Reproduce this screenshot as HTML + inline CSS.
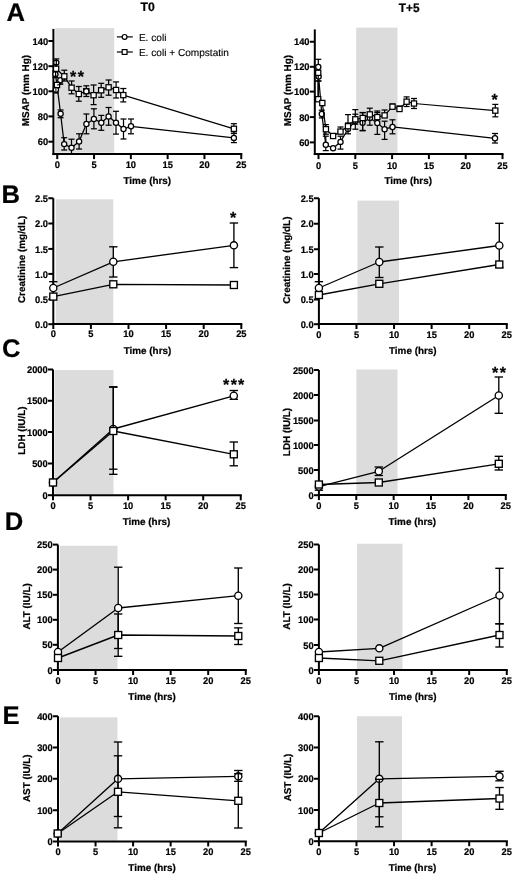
<!DOCTYPE html>
<html><head><meta charset="utf-8"><style>
html,body{margin:0;padding:0;background:#fff;}
svg{display:block;font-family:"Liberation Sans", sans-serif;will-change:transform;text-rendering:geometricPrecision;}
text{stroke:#000;stroke-width:0.22px;}
text.r{stroke-width:0.12px;}
</style></head><body>
<svg width="520" height="881" viewBox="0 0 520 881">
<rect width="520" height="881" fill="#fff"/>
<rect x="55.3" y="28.1" width="58.900000000000006" height="124.6" fill="#dcdcdc"/>
<line x1="53.4" y1="28.9" x2="53.4" y2="155.1" stroke="#000" stroke-width="2.0"/>
<line x1="52.4" y1="154.1" x2="242.3" y2="154.1" stroke="#000" stroke-width="2.0"/>
<line x1="48.4" y1="41.0" x2="53.4" y2="41.0" stroke="#000" stroke-width="2.0"/>
<text transform="translate(48.10,44.60) scale(0.97,1.0)" font-size="9.6" font-weight="bold" text-anchor="end" >140</text>
<line x1="48.4" y1="66.2" x2="53.4" y2="66.2" stroke="#000" stroke-width="2.0"/>
<text transform="translate(48.10,69.80) scale(0.97,1.0)" font-size="9.6" font-weight="bold" text-anchor="end" >120</text>
<line x1="48.4" y1="91.3" x2="53.4" y2="91.3" stroke="#000" stroke-width="2.0"/>
<text transform="translate(48.10,94.90) scale(0.97,1.0)" font-size="9.6" font-weight="bold" text-anchor="end" >100</text>
<line x1="48.4" y1="116.4" x2="53.4" y2="116.4" stroke="#000" stroke-width="2.0"/>
<text transform="translate(48.10,120.00) scale(0.97,1.0)" font-size="9.6" font-weight="bold" text-anchor="end" >80</text>
<line x1="48.4" y1="141.7" x2="53.4" y2="141.7" stroke="#000" stroke-width="2.0"/>
<text transform="translate(48.10,145.30) scale(0.97,1.0)" font-size="9.6" font-weight="bold" text-anchor="end" >60</text>
<line x1="57.25" y1="154.1" x2="57.25" y2="159.1" stroke="#000" stroke-width="2.0"/>
<text transform="translate(57.25,168.10) scale(0.97,1.0)" font-size="9.6" font-weight="bold" text-anchor="middle" >0</text>
<line x1="94.05000000000001" y1="154.1" x2="94.05000000000001" y2="159.1" stroke="#000" stroke-width="2.0"/>
<text transform="translate(94.05,168.10) scale(0.97,1.0)" font-size="9.6" font-weight="bold" text-anchor="middle" >5</text>
<line x1="130.85000000000002" y1="154.1" x2="130.85000000000002" y2="159.1" stroke="#000" stroke-width="2.0"/>
<text transform="translate(130.85,168.10) scale(0.97,1.0)" font-size="9.6" font-weight="bold" text-anchor="middle" >10</text>
<line x1="167.65" y1="154.1" x2="167.65" y2="159.1" stroke="#000" stroke-width="2.0"/>
<text transform="translate(167.65,168.10) scale(0.97,1.0)" font-size="9.6" font-weight="bold" text-anchor="middle" >15</text>
<line x1="204.45000000000002" y1="154.1" x2="204.45000000000002" y2="159.1" stroke="#000" stroke-width="2.0"/>
<text transform="translate(204.45,168.10) scale(0.97,1.0)" font-size="9.6" font-weight="bold" text-anchor="middle" >20</text>
<line x1="241.25" y1="154.1" x2="241.25" y2="159.1" stroke="#000" stroke-width="2.0"/>
<text transform="translate(241.25,168.10) scale(0.97,1.0)" font-size="9.6" font-weight="bold" text-anchor="middle" >25</text>
<text transform="translate(147.30,184.41) scale(1.0,1.0)" font-size="9.9" font-weight="bold" text-anchor="middle" >Time (hrs)</text>
<text transform="translate(29.26,90.60) rotate(-90) scale(1.0,1.0)" font-size="9.9" font-weight="bold" text-anchor="middle" >MSAP (mm Hg)</text>
<rect x="356.2" y="27.6" width="41.30000000000001" height="125.20000000000002" fill="#dcdcdc"/>
<line x1="314.8" y1="29.4" x2="314.8" y2="155.1" stroke="#000" stroke-width="2.0"/>
<line x1="313.8" y1="154.1" x2="503.5" y2="154.1" stroke="#000" stroke-width="2.0"/>
<line x1="309.8" y1="41.75" x2="314.8" y2="41.75" stroke="#000" stroke-width="2.0"/>
<text transform="translate(309.50,45.35) scale(0.97,1.0)" font-size="9.6" font-weight="bold" text-anchor="end" >140</text>
<line x1="309.8" y1="66.8" x2="314.8" y2="66.8" stroke="#000" stroke-width="2.0"/>
<text transform="translate(309.50,70.40) scale(0.97,1.0)" font-size="9.6" font-weight="bold" text-anchor="end" >120</text>
<line x1="309.8" y1="91.6" x2="314.8" y2="91.6" stroke="#000" stroke-width="2.0"/>
<text transform="translate(309.50,95.20) scale(0.97,1.0)" font-size="9.6" font-weight="bold" text-anchor="end" >100</text>
<line x1="309.8" y1="117.1" x2="314.8" y2="117.1" stroke="#000" stroke-width="2.0"/>
<text transform="translate(309.50,120.70) scale(0.97,1.0)" font-size="9.6" font-weight="bold" text-anchor="end" >80</text>
<line x1="309.8" y1="142.4" x2="314.8" y2="142.4" stroke="#000" stroke-width="2.0"/>
<text transform="translate(309.50,146.00) scale(0.97,1.0)" font-size="9.6" font-weight="bold" text-anchor="end" >60</text>
<line x1="318.5" y1="154.1" x2="318.5" y2="159.1" stroke="#000" stroke-width="2.0"/>
<text transform="translate(318.50,168.80) scale(0.97,1.0)" font-size="9.6" font-weight="bold" text-anchor="middle" >0</text>
<line x1="355.3" y1="154.1" x2="355.3" y2="159.1" stroke="#000" stroke-width="2.0"/>
<text transform="translate(355.30,168.80) scale(0.97,1.0)" font-size="9.6" font-weight="bold" text-anchor="middle" >5</text>
<line x1="392.1" y1="154.1" x2="392.1" y2="159.1" stroke="#000" stroke-width="2.0"/>
<text transform="translate(392.10,168.80) scale(0.97,1.0)" font-size="9.6" font-weight="bold" text-anchor="middle" >10</text>
<line x1="428.9" y1="154.1" x2="428.9" y2="159.1" stroke="#000" stroke-width="2.0"/>
<text transform="translate(428.90,168.80) scale(0.97,1.0)" font-size="9.6" font-weight="bold" text-anchor="middle" >15</text>
<line x1="465.70000000000005" y1="154.1" x2="465.70000000000005" y2="159.1" stroke="#000" stroke-width="2.0"/>
<text transform="translate(465.70,168.80) scale(0.97,1.0)" font-size="9.6" font-weight="bold" text-anchor="middle" >20</text>
<line x1="502.5" y1="154.1" x2="502.5" y2="159.1" stroke="#000" stroke-width="2.0"/>
<text transform="translate(502.50,168.80) scale(0.97,1.0)" font-size="9.6" font-weight="bold" text-anchor="middle" >25</text>
<text transform="translate(408.20,184.41) scale(1.0,1.0)" font-size="9.9" font-weight="bold" text-anchor="middle" >Time (hrs)</text>
<text transform="translate(290.86,90.60) rotate(-90) scale(1.0,1.0)" font-size="9.9" font-weight="bold" text-anchor="middle" >MSAP (mm Hg)</text>
<rect x="55.8" y="199.3" width="57.5" height="123.69999999999999" fill="#dcdcdc"/>
<line x1="53.3" y1="198.2" x2="53.3" y2="325.0" stroke="#000" stroke-width="2.0"/>
<line x1="52.3" y1="324" x2="242.3" y2="324" stroke="#000" stroke-width="2.0"/>
<line x1="48.3" y1="198.25" x2="53.3" y2="198.25" stroke="#000" stroke-width="2.0"/>
<text transform="translate(48.00,201.85) scale(0.97,1.0)" font-size="9.6" font-weight="bold" text-anchor="end" >2.5</text>
<line x1="48.3" y1="223.5" x2="53.3" y2="223.5" stroke="#000" stroke-width="2.0"/>
<text transform="translate(48.00,227.10) scale(0.97,1.0)" font-size="9.6" font-weight="bold" text-anchor="end" >2.0</text>
<line x1="48.3" y1="248.9" x2="53.3" y2="248.9" stroke="#000" stroke-width="2.0"/>
<text transform="translate(48.00,252.50) scale(0.97,1.0)" font-size="9.6" font-weight="bold" text-anchor="end" >1.5</text>
<line x1="48.3" y1="273.9" x2="53.3" y2="273.9" stroke="#000" stroke-width="2.0"/>
<text transform="translate(48.00,277.50) scale(0.97,1.0)" font-size="9.6" font-weight="bold" text-anchor="end" >1.0</text>
<line x1="48.3" y1="299.3" x2="53.3" y2="299.3" stroke="#000" stroke-width="2.0"/>
<text transform="translate(48.00,302.90) scale(0.97,1.0)" font-size="9.6" font-weight="bold" text-anchor="end" >0.5</text>
<line x1="48.3" y1="324.2" x2="53.3" y2="324.2" stroke="#000" stroke-width="2.0"/>
<text transform="translate(48.00,327.80) scale(0.97,1.0)" font-size="9.6" font-weight="bold" text-anchor="end" >0.0</text>
<line x1="53.3" y1="324" x2="53.3" y2="329.0" stroke="#000" stroke-width="2.0"/>
<text transform="translate(53.30,337.30) scale(0.97,1.0)" font-size="9.6" font-weight="bold" text-anchor="middle" >0</text>
<line x1="90.89999999999999" y1="324" x2="90.89999999999999" y2="329.0" stroke="#000" stroke-width="2.0"/>
<text transform="translate(90.90,337.30) scale(0.97,1.0)" font-size="9.6" font-weight="bold" text-anchor="middle" >5</text>
<line x1="128.5" y1="324" x2="128.5" y2="329.0" stroke="#000" stroke-width="2.0"/>
<text transform="translate(128.50,337.30) scale(0.97,1.0)" font-size="9.6" font-weight="bold" text-anchor="middle" >10</text>
<line x1="166.1" y1="324" x2="166.1" y2="329.0" stroke="#000" stroke-width="2.0"/>
<text transform="translate(166.10,337.30) scale(0.97,1.0)" font-size="9.6" font-weight="bold" text-anchor="middle" >15</text>
<line x1="203.7" y1="324" x2="203.7" y2="329.0" stroke="#000" stroke-width="2.0"/>
<text transform="translate(203.70,337.30) scale(0.97,1.0)" font-size="9.6" font-weight="bold" text-anchor="middle" >20</text>
<line x1="241.3" y1="324" x2="241.3" y2="329.0" stroke="#000" stroke-width="2.0"/>
<text transform="translate(241.30,337.30) scale(0.97,1.0)" font-size="9.6" font-weight="bold" text-anchor="middle" >25</text>
<text transform="translate(147.50,353.91) scale(1.0,1.0)" font-size="9.9" font-weight="bold" text-anchor="middle" >Time (hrs)</text>
<text transform="translate(24.96,259.40) rotate(-90) scale(1.0,1.0)" font-size="9.9" font-weight="bold" text-anchor="middle" >Creatinine (mg/dL)</text>
<rect x="357.5" y="200.6" width="41.5" height="122.4" fill="#dcdcdc"/>
<line x1="318.9" y1="198.2" x2="318.9" y2="325.0" stroke="#000" stroke-width="2.0"/>
<line x1="317.9" y1="324" x2="507.8" y2="324" stroke="#000" stroke-width="2.0"/>
<line x1="313.9" y1="198.25" x2="318.9" y2="198.25" stroke="#000" stroke-width="2.0"/>
<text transform="translate(313.60,201.85) scale(0.97,1.0)" font-size="9.6" font-weight="bold" text-anchor="end" >2.5</text>
<line x1="313.9" y1="223.75" x2="318.9" y2="223.75" stroke="#000" stroke-width="2.0"/>
<text transform="translate(313.60,227.35) scale(0.97,1.0)" font-size="9.6" font-weight="bold" text-anchor="end" >2.0</text>
<line x1="313.9" y1="249.25" x2="318.9" y2="249.25" stroke="#000" stroke-width="2.0"/>
<text transform="translate(313.60,252.85) scale(0.97,1.0)" font-size="9.6" font-weight="bold" text-anchor="end" >1.5</text>
<line x1="313.9" y1="274" x2="318.9" y2="274" stroke="#000" stroke-width="2.0"/>
<text transform="translate(313.60,277.60) scale(0.97,1.0)" font-size="9.6" font-weight="bold" text-anchor="end" >1.0</text>
<line x1="313.9" y1="299.5" x2="318.9" y2="299.5" stroke="#000" stroke-width="2.0"/>
<text transform="translate(313.60,303.10) scale(0.97,1.0)" font-size="9.6" font-weight="bold" text-anchor="end" >0.5</text>
<line x1="313.9" y1="324.2" x2="318.9" y2="324.2" stroke="#000" stroke-width="2.0"/>
<text transform="translate(313.60,327.80) scale(0.97,1.0)" font-size="9.6" font-weight="bold" text-anchor="end" >0.0</text>
<line x1="318.9" y1="324" x2="318.9" y2="329.0" stroke="#000" stroke-width="2.0"/>
<text transform="translate(318.90,337.80) scale(0.97,1.0)" font-size="9.6" font-weight="bold" text-anchor="middle" >0</text>
<line x1="356.47499999999997" y1="324" x2="356.47499999999997" y2="329.0" stroke="#000" stroke-width="2.0"/>
<text transform="translate(356.47,337.80) scale(0.97,1.0)" font-size="9.6" font-weight="bold" text-anchor="middle" >5</text>
<line x1="394.04999999999995" y1="324" x2="394.04999999999995" y2="329.0" stroke="#000" stroke-width="2.0"/>
<text transform="translate(394.05,337.80) scale(0.97,1.0)" font-size="9.6" font-weight="bold" text-anchor="middle" >10</text>
<line x1="431.625" y1="324" x2="431.625" y2="329.0" stroke="#000" stroke-width="2.0"/>
<text transform="translate(431.62,337.80) scale(0.97,1.0)" font-size="9.6" font-weight="bold" text-anchor="middle" >15</text>
<line x1="469.19999999999993" y1="324" x2="469.19999999999993" y2="329.0" stroke="#000" stroke-width="2.0"/>
<text transform="translate(469.20,337.80) scale(0.97,1.0)" font-size="9.6" font-weight="bold" text-anchor="middle" >20</text>
<line x1="506.775" y1="324" x2="506.775" y2="329.0" stroke="#000" stroke-width="2.0"/>
<text transform="translate(506.77,337.80) scale(0.97,1.0)" font-size="9.6" font-weight="bold" text-anchor="middle" >25</text>
<text transform="translate(412.80,353.91) scale(1.0,1.0)" font-size="9.9" font-weight="bold" text-anchor="middle" >Time (hrs)</text>
<text transform="translate(290.26,260.20) rotate(-90) scale(1.0,1.0)" font-size="9.9" font-weight="bold" text-anchor="middle" >Creatinine (mg/dL)</text>
<rect x="54.4" y="370.1" width="59.1" height="124.19999999999999" fill="#dcdcdc"/>
<line x1="53.0" y1="369.5" x2="53.0" y2="496.3" stroke="#000" stroke-width="2.0"/>
<line x1="52.0" y1="495.3" x2="241.8" y2="495.3" stroke="#000" stroke-width="2.0"/>
<line x1="48.0" y1="369.5" x2="53.0" y2="369.5" stroke="#000" stroke-width="2.0"/>
<text transform="translate(47.70,373.10) scale(0.97,1.0)" font-size="9.6" font-weight="bold" text-anchor="end" >2000</text>
<line x1="48.0" y1="400.75" x2="53.0" y2="400.75" stroke="#000" stroke-width="2.0"/>
<text transform="translate(47.70,404.35) scale(0.97,1.0)" font-size="9.6" font-weight="bold" text-anchor="end" >1500</text>
<line x1="48.0" y1="432" x2="53.0" y2="432" stroke="#000" stroke-width="2.0"/>
<text transform="translate(47.70,435.60) scale(0.97,1.0)" font-size="9.6" font-weight="bold" text-anchor="end" >1000</text>
<line x1="48.0" y1="463.5" x2="53.0" y2="463.5" stroke="#000" stroke-width="2.0"/>
<text transform="translate(47.70,467.10) scale(0.97,1.0)" font-size="9.6" font-weight="bold" text-anchor="end" >500</text>
<line x1="48.0" y1="495.2" x2="53.0" y2="495.2" stroke="#000" stroke-width="2.0"/>
<text transform="translate(47.70,498.80) scale(0.97,1.0)" font-size="9.6" font-weight="bold" text-anchor="end" >0</text>
<line x1="53.0" y1="495.3" x2="53.0" y2="500.3" stroke="#000" stroke-width="2.0"/>
<text transform="translate(53.00,508.80) scale(0.97,1.0)" font-size="9.6" font-weight="bold" text-anchor="middle" >0</text>
<line x1="90.55" y1="495.3" x2="90.55" y2="500.3" stroke="#000" stroke-width="2.0"/>
<text transform="translate(90.55,508.80) scale(0.97,1.0)" font-size="9.6" font-weight="bold" text-anchor="middle" >5</text>
<line x1="128.1" y1="495.3" x2="128.1" y2="500.3" stroke="#000" stroke-width="2.0"/>
<text transform="translate(128.10,508.80) scale(0.97,1.0)" font-size="9.6" font-weight="bold" text-anchor="middle" >10</text>
<line x1="165.64999999999998" y1="495.3" x2="165.64999999999998" y2="500.3" stroke="#000" stroke-width="2.0"/>
<text transform="translate(165.65,508.80) scale(0.97,1.0)" font-size="9.6" font-weight="bold" text-anchor="middle" >15</text>
<line x1="203.2" y1="495.3" x2="203.2" y2="500.3" stroke="#000" stroke-width="2.0"/>
<text transform="translate(203.20,508.80) scale(0.97,1.0)" font-size="9.6" font-weight="bold" text-anchor="middle" >20</text>
<line x1="240.75" y1="495.3" x2="240.75" y2="500.3" stroke="#000" stroke-width="2.0"/>
<text transform="translate(240.75,508.80) scale(0.97,1.0)" font-size="9.6" font-weight="bold" text-anchor="middle" >25</text>
<text transform="translate(146.50,524.91) scale(1.0,1.0)" font-size="9.9" font-weight="bold" text-anchor="middle" >Time (hrs)</text>
<text transform="translate(24.56,430.60) rotate(-90) scale(1.0,1.0)" font-size="9.9" font-weight="bold" text-anchor="middle" >LDH (IU/L)</text>
<rect x="356.4" y="369.5" width="41.10000000000002" height="124.80000000000001" fill="#dcdcdc"/>
<line x1="318.9" y1="370" x2="318.9" y2="496.1" stroke="#000" stroke-width="2.0"/>
<line x1="317.9" y1="495.1" x2="506.8" y2="495.1" stroke="#000" stroke-width="2.0"/>
<line x1="313.9" y1="370" x2="318.9" y2="370" stroke="#000" stroke-width="2.0"/>
<text transform="translate(313.60,373.60) scale(0.97,1.0)" font-size="9.6" font-weight="bold" text-anchor="end" >2500</text>
<line x1="313.9" y1="395" x2="318.9" y2="395" stroke="#000" stroke-width="2.0"/>
<text transform="translate(313.60,398.60) scale(0.97,1.0)" font-size="9.6" font-weight="bold" text-anchor="end" >2000</text>
<line x1="313.9" y1="420.5" x2="318.9" y2="420.5" stroke="#000" stroke-width="2.0"/>
<text transform="translate(313.60,424.10) scale(0.97,1.0)" font-size="9.6" font-weight="bold" text-anchor="end" >1500</text>
<line x1="313.9" y1="445" x2="318.9" y2="445" stroke="#000" stroke-width="2.0"/>
<text transform="translate(313.60,448.60) scale(0.97,1.0)" font-size="9.6" font-weight="bold" text-anchor="end" >1000</text>
<line x1="313.9" y1="470" x2="318.9" y2="470" stroke="#000" stroke-width="2.0"/>
<text transform="translate(313.60,473.60) scale(0.97,1.0)" font-size="9.6" font-weight="bold" text-anchor="end" >500</text>
<line x1="313.9" y1="495.2" x2="318.9" y2="495.2" stroke="#000" stroke-width="2.0"/>
<text transform="translate(313.60,498.80) scale(0.97,1.0)" font-size="9.6" font-weight="bold" text-anchor="end" >0</text>
<line x1="318.9" y1="495.1" x2="318.9" y2="500.1" stroke="#000" stroke-width="2.0"/>
<text transform="translate(318.90,508.80) scale(0.97,1.0)" font-size="9.6" font-weight="bold" text-anchor="middle" >0</text>
<line x1="356.275" y1="495.1" x2="356.275" y2="500.1" stroke="#000" stroke-width="2.0"/>
<text transform="translate(356.27,508.80) scale(0.97,1.0)" font-size="9.6" font-weight="bold" text-anchor="middle" >5</text>
<line x1="393.65" y1="495.1" x2="393.65" y2="500.1" stroke="#000" stroke-width="2.0"/>
<text transform="translate(393.65,508.80) scale(0.97,1.0)" font-size="9.6" font-weight="bold" text-anchor="middle" >10</text>
<line x1="431.025" y1="495.1" x2="431.025" y2="500.1" stroke="#000" stroke-width="2.0"/>
<text transform="translate(431.02,508.80) scale(0.97,1.0)" font-size="9.6" font-weight="bold" text-anchor="middle" >15</text>
<line x1="468.4" y1="495.1" x2="468.4" y2="500.1" stroke="#000" stroke-width="2.0"/>
<text transform="translate(468.40,508.80) scale(0.97,1.0)" font-size="9.6" font-weight="bold" text-anchor="middle" >20</text>
<line x1="505.775" y1="495.1" x2="505.775" y2="500.1" stroke="#000" stroke-width="2.0"/>
<text transform="translate(505.77,508.80) scale(0.97,1.0)" font-size="9.6" font-weight="bold" text-anchor="middle" >25</text>
<text transform="translate(412.30,524.91) scale(1.0,1.0)" font-size="9.9" font-weight="bold" text-anchor="middle" >Time (hrs)</text>
<text transform="translate(289.86,432.00) rotate(-90) scale(1.0,1.0)" font-size="9.9" font-weight="bold" text-anchor="middle" >LDH (IU/L)</text>
<rect x="59.7" y="545.75" width="57.8" height="123.25" fill="#dcdcdc"/>
<line x1="57.9" y1="544.6" x2="57.9" y2="671.0" stroke="#000" stroke-width="2.0"/>
<line x1="56.9" y1="670" x2="246.8" y2="670" stroke="#000" stroke-width="2.0"/>
<line x1="52.9" y1="544.6" x2="57.9" y2="544.6" stroke="#000" stroke-width="2.0"/>
<text transform="translate(52.60,548.20) scale(0.97,1.0)" font-size="9.6" font-weight="bold" text-anchor="end" >250</text>
<line x1="52.9" y1="569.6" x2="57.9" y2="569.6" stroke="#000" stroke-width="2.0"/>
<text transform="translate(52.60,573.20) scale(0.97,1.0)" font-size="9.6" font-weight="bold" text-anchor="end" >200</text>
<line x1="52.9" y1="594.8" x2="57.9" y2="594.8" stroke="#000" stroke-width="2.0"/>
<text transform="translate(52.60,598.40) scale(0.97,1.0)" font-size="9.6" font-weight="bold" text-anchor="end" >150</text>
<line x1="52.9" y1="619.8" x2="57.9" y2="619.8" stroke="#000" stroke-width="2.0"/>
<text transform="translate(52.60,623.40) scale(0.97,1.0)" font-size="9.6" font-weight="bold" text-anchor="end" >100</text>
<line x1="52.9" y1="644.8" x2="57.9" y2="644.8" stroke="#000" stroke-width="2.0"/>
<text transform="translate(52.60,648.40) scale(0.97,1.0)" font-size="9.6" font-weight="bold" text-anchor="end" >50</text>
<line x1="52.9" y1="670" x2="57.9" y2="670" stroke="#000" stroke-width="2.0"/>
<text transform="translate(52.60,673.60) scale(0.97,1.0)" font-size="9.6" font-weight="bold" text-anchor="end" >0</text>
<line x1="58.0" y1="670" x2="58.0" y2="675.0" stroke="#000" stroke-width="2.0"/>
<text transform="translate(58.00,684.05) scale(0.97,1.0)" font-size="9.6" font-weight="bold" text-anchor="middle" >0</text>
<line x1="95.55" y1="670" x2="95.55" y2="675.0" stroke="#000" stroke-width="2.0"/>
<text transform="translate(95.55,684.05) scale(0.97,1.0)" font-size="9.6" font-weight="bold" text-anchor="middle" >5</text>
<line x1="133.1" y1="670" x2="133.1" y2="675.0" stroke="#000" stroke-width="2.0"/>
<text transform="translate(133.10,684.05) scale(0.97,1.0)" font-size="9.6" font-weight="bold" text-anchor="middle" >10</text>
<line x1="170.64999999999998" y1="670" x2="170.64999999999998" y2="675.0" stroke="#000" stroke-width="2.0"/>
<text transform="translate(170.65,684.05) scale(0.97,1.0)" font-size="9.6" font-weight="bold" text-anchor="middle" >15</text>
<line x1="208.2" y1="670" x2="208.2" y2="675.0" stroke="#000" stroke-width="2.0"/>
<text transform="translate(208.20,684.05) scale(0.97,1.0)" font-size="9.6" font-weight="bold" text-anchor="middle" >20</text>
<line x1="245.75" y1="670" x2="245.75" y2="675.0" stroke="#000" stroke-width="2.0"/>
<text transform="translate(245.75,684.05) scale(0.97,1.0)" font-size="9.6" font-weight="bold" text-anchor="middle" >25</text>
<text transform="translate(152.10,700.41) scale(1.0,1.0)" font-size="9.9" font-weight="bold" text-anchor="middle" >Time (hrs)</text>
<text transform="translate(29.56,606.40) rotate(-90) scale(1.0,1.0)" font-size="9.9" font-weight="bold" text-anchor="middle" >ALT (IU/L)</text>
<rect x="357" y="543.75" width="45.5" height="125.25" fill="#dcdcdc"/>
<line x1="318.9" y1="544.5" x2="318.9" y2="671.0" stroke="#000" stroke-width="2.0"/>
<line x1="317.9" y1="670" x2="507.8" y2="670" stroke="#000" stroke-width="2.0"/>
<line x1="313.9" y1="544.5" x2="318.9" y2="544.5" stroke="#000" stroke-width="2.0"/>
<text transform="translate(313.60,548.10) scale(0.97,1.0)" font-size="9.6" font-weight="bold" text-anchor="end" >250</text>
<line x1="313.9" y1="569.5" x2="318.9" y2="569.5" stroke="#000" stroke-width="2.0"/>
<text transform="translate(313.60,573.10) scale(0.97,1.0)" font-size="9.6" font-weight="bold" text-anchor="end" >200</text>
<line x1="313.9" y1="594.5" x2="318.9" y2="594.5" stroke="#000" stroke-width="2.0"/>
<text transform="translate(313.60,598.10) scale(0.97,1.0)" font-size="9.6" font-weight="bold" text-anchor="end" >150</text>
<line x1="313.9" y1="619.5" x2="318.9" y2="619.5" stroke="#000" stroke-width="2.0"/>
<text transform="translate(313.60,623.10) scale(0.97,1.0)" font-size="9.6" font-weight="bold" text-anchor="end" >100</text>
<line x1="313.9" y1="645" x2="318.9" y2="645" stroke="#000" stroke-width="2.0"/>
<text transform="translate(313.60,648.60) scale(0.97,1.0)" font-size="9.6" font-weight="bold" text-anchor="end" >50</text>
<line x1="313.9" y1="670" x2="318.9" y2="670" stroke="#000" stroke-width="2.0"/>
<text transform="translate(313.60,673.60) scale(0.97,1.0)" font-size="9.6" font-weight="bold" text-anchor="end" >0</text>
<line x1="318.9" y1="670" x2="318.9" y2="675.0" stroke="#000" stroke-width="2.0"/>
<text transform="translate(318.90,683.80) scale(0.97,1.0)" font-size="9.6" font-weight="bold" text-anchor="middle" >0</text>
<line x1="356.47499999999997" y1="670" x2="356.47499999999997" y2="675.0" stroke="#000" stroke-width="2.0"/>
<text transform="translate(356.47,683.80) scale(0.97,1.0)" font-size="9.6" font-weight="bold" text-anchor="middle" >5</text>
<line x1="394.04999999999995" y1="670" x2="394.04999999999995" y2="675.0" stroke="#000" stroke-width="2.0"/>
<text transform="translate(394.05,683.80) scale(0.97,1.0)" font-size="9.6" font-weight="bold" text-anchor="middle" >10</text>
<line x1="431.625" y1="670" x2="431.625" y2="675.0" stroke="#000" stroke-width="2.0"/>
<text transform="translate(431.62,683.80) scale(0.97,1.0)" font-size="9.6" font-weight="bold" text-anchor="middle" >15</text>
<line x1="469.19999999999993" y1="670" x2="469.19999999999993" y2="675.0" stroke="#000" stroke-width="2.0"/>
<text transform="translate(469.20,683.80) scale(0.97,1.0)" font-size="9.6" font-weight="bold" text-anchor="middle" >20</text>
<line x1="506.775" y1="670" x2="506.775" y2="675.0" stroke="#000" stroke-width="2.0"/>
<text transform="translate(506.77,683.80) scale(0.97,1.0)" font-size="9.6" font-weight="bold" text-anchor="middle" >25</text>
<text transform="translate(412.80,700.41) scale(1.0,1.0)" font-size="9.9" font-weight="bold" text-anchor="middle" >Time (hrs)</text>
<text transform="translate(290.46,606.50) rotate(-90) scale(1.0,1.0)" font-size="9.9" font-weight="bold" text-anchor="middle" >ALT (IU/L)</text>
<rect x="59.7" y="717.4" width="57.8" height="123.10000000000002" fill="#dcdcdc"/>
<line x1="58.0" y1="716.25" x2="58.0" y2="842.4" stroke="#000" stroke-width="2.0"/>
<line x1="57.0" y1="841.4" x2="246.8" y2="841.4" stroke="#000" stroke-width="2.0"/>
<line x1="53.0" y1="716.25" x2="58.0" y2="716.25" stroke="#000" stroke-width="2.0"/>
<text transform="translate(52.70,719.85) scale(0.97,1.0)" font-size="9.6" font-weight="bold" text-anchor="end" >400</text>
<line x1="53.0" y1="747.5" x2="58.0" y2="747.5" stroke="#000" stroke-width="2.0"/>
<text transform="translate(52.70,751.10) scale(0.97,1.0)" font-size="9.6" font-weight="bold" text-anchor="end" >300</text>
<line x1="53.0" y1="778.75" x2="58.0" y2="778.75" stroke="#000" stroke-width="2.0"/>
<text transform="translate(52.70,782.35) scale(0.97,1.0)" font-size="9.6" font-weight="bold" text-anchor="end" >200</text>
<line x1="53.0" y1="810.25" x2="58.0" y2="810.25" stroke="#000" stroke-width="2.0"/>
<text transform="translate(52.70,813.85) scale(0.97,1.0)" font-size="9.6" font-weight="bold" text-anchor="end" >100</text>
<line x1="53.0" y1="841.5" x2="58.0" y2="841.5" stroke="#000" stroke-width="2.0"/>
<text transform="translate(52.70,845.10) scale(0.97,1.0)" font-size="9.6" font-weight="bold" text-anchor="end" >0</text>
<line x1="58.0" y1="841.4" x2="58.0" y2="846.4" stroke="#000" stroke-width="2.0"/>
<text transform="translate(58.00,855.30) scale(0.97,1.0)" font-size="9.6" font-weight="bold" text-anchor="middle" >0</text>
<line x1="95.55" y1="841.4" x2="95.55" y2="846.4" stroke="#000" stroke-width="2.0"/>
<text transform="translate(95.55,855.30) scale(0.97,1.0)" font-size="9.6" font-weight="bold" text-anchor="middle" >5</text>
<line x1="133.1" y1="841.4" x2="133.1" y2="846.4" stroke="#000" stroke-width="2.0"/>
<text transform="translate(133.10,855.30) scale(0.97,1.0)" font-size="9.6" font-weight="bold" text-anchor="middle" >10</text>
<line x1="170.64999999999998" y1="841.4" x2="170.64999999999998" y2="846.4" stroke="#000" stroke-width="2.0"/>
<text transform="translate(170.65,855.30) scale(0.97,1.0)" font-size="9.6" font-weight="bold" text-anchor="middle" >15</text>
<line x1="208.2" y1="841.4" x2="208.2" y2="846.4" stroke="#000" stroke-width="2.0"/>
<text transform="translate(208.20,855.30) scale(0.97,1.0)" font-size="9.6" font-weight="bold" text-anchor="middle" >20</text>
<line x1="245.75" y1="841.4" x2="245.75" y2="846.4" stroke="#000" stroke-width="2.0"/>
<text transform="translate(245.75,855.30) scale(0.97,1.0)" font-size="9.6" font-weight="bold" text-anchor="middle" >25</text>
<text transform="translate(152.10,871.41) scale(1.0,1.0)" font-size="9.9" font-weight="bold" text-anchor="middle" >Time (hrs)</text>
<text transform="translate(29.56,778.20) rotate(-90) scale(1.0,1.0)" font-size="9.9" font-weight="bold" text-anchor="middle" >AST (IU/L)</text>
<rect x="357" y="716.25" width="45" height="123.95000000000005" fill="#dcdcdc"/>
<line x1="318.9" y1="716.25" x2="318.9" y2="842.2" stroke="#000" stroke-width="2.0"/>
<line x1="317.9" y1="841.2" x2="507.8" y2="841.2" stroke="#000" stroke-width="2.0"/>
<line x1="313.9" y1="716.25" x2="318.9" y2="716.25" stroke="#000" stroke-width="2.0"/>
<text transform="translate(313.60,719.85) scale(0.97,1.0)" font-size="9.6" font-weight="bold" text-anchor="end" >400</text>
<line x1="313.9" y1="747.5" x2="318.9" y2="747.5" stroke="#000" stroke-width="2.0"/>
<text transform="translate(313.60,751.10) scale(0.97,1.0)" font-size="9.6" font-weight="bold" text-anchor="end" >300</text>
<line x1="313.9" y1="778.75" x2="318.9" y2="778.75" stroke="#000" stroke-width="2.0"/>
<text transform="translate(313.60,782.35) scale(0.97,1.0)" font-size="9.6" font-weight="bold" text-anchor="end" >200</text>
<line x1="313.9" y1="810" x2="318.9" y2="810" stroke="#000" stroke-width="2.0"/>
<text transform="translate(313.60,813.60) scale(0.97,1.0)" font-size="9.6" font-weight="bold" text-anchor="end" >100</text>
<line x1="313.9" y1="841.2" x2="318.9" y2="841.2" stroke="#000" stroke-width="2.0"/>
<text transform="translate(313.60,844.80) scale(0.97,1.0)" font-size="9.6" font-weight="bold" text-anchor="end" >0</text>
<line x1="318.9" y1="841.2" x2="318.9" y2="846.2" stroke="#000" stroke-width="2.0"/>
<text transform="translate(318.90,855.30) scale(0.97,1.0)" font-size="9.6" font-weight="bold" text-anchor="middle" >0</text>
<line x1="356.47499999999997" y1="841.2" x2="356.47499999999997" y2="846.2" stroke="#000" stroke-width="2.0"/>
<text transform="translate(356.47,855.30) scale(0.97,1.0)" font-size="9.6" font-weight="bold" text-anchor="middle" >5</text>
<line x1="394.04999999999995" y1="841.2" x2="394.04999999999995" y2="846.2" stroke="#000" stroke-width="2.0"/>
<text transform="translate(394.05,855.30) scale(0.97,1.0)" font-size="9.6" font-weight="bold" text-anchor="middle" >10</text>
<line x1="431.625" y1="841.2" x2="431.625" y2="846.2" stroke="#000" stroke-width="2.0"/>
<text transform="translate(431.62,855.30) scale(0.97,1.0)" font-size="9.6" font-weight="bold" text-anchor="middle" >15</text>
<line x1="469.19999999999993" y1="841.2" x2="469.19999999999993" y2="846.2" stroke="#000" stroke-width="2.0"/>
<text transform="translate(469.20,855.30) scale(0.97,1.0)" font-size="9.6" font-weight="bold" text-anchor="middle" >20</text>
<line x1="506.775" y1="841.2" x2="506.775" y2="846.2" stroke="#000" stroke-width="2.0"/>
<text transform="translate(506.77,855.30) scale(0.97,1.0)" font-size="9.6" font-weight="bold" text-anchor="middle" >25</text>
<text transform="translate(412.50,871.41) scale(1.0,1.0)" font-size="9.9" font-weight="bold" text-anchor="middle" >Time (hrs)</text>
<text transform="translate(290.76,777.50) rotate(-90) scale(1.0,1.0)" font-size="9.9" font-weight="bold" text-anchor="middle" >AST (IU/L)</text>
<polyline points="56.3,62.6 55.4,74.3 57.0,85.0 60.6,113.8 64.2,144.1 71.5,147.8 79.1,141.5 86.4,124 93.9,118.9 101.3,122.8 108.6,116.5 116.0,122.8 123.5,129 131.0,126.3 233.9,137.9" fill="none" stroke="#000" stroke-width="1.25" stroke-linejoin="round"/>
<line x1="56.3" y1="58.9" x2="56.3" y2="62.6" stroke="#000" stroke-width="1.25"/>
<line x1="53.3" y1="58.9" x2="59.3" y2="58.9" stroke="#000" stroke-width="1.25"/>
<line x1="55.4" y1="71.0" x2="55.4" y2="74.3" stroke="#000" stroke-width="1.25"/>
<line x1="52.4" y1="71.0" x2="58.4" y2="71.0" stroke="#000" stroke-width="1.25"/>
<line x1="55.4" y1="74.3" x2="55.4" y2="77.6" stroke="#000" stroke-width="1.25"/>
<line x1="52.4" y1="77.6" x2="58.4" y2="77.6" stroke="#000" stroke-width="1.25"/>
<line x1="55.9" y1="87.0" x2="55.9" y2="89.8" stroke="#000" stroke-width="1.25"/>
<line x1="52.9" y1="87.0" x2="58.9" y2="87.0" stroke="#000" stroke-width="1.25"/>
<line x1="55.9" y1="89.8" x2="55.9" y2="93.0" stroke="#000" stroke-width="1.25"/>
<line x1="52.9" y1="93.0" x2="58.9" y2="93.0" stroke="#000" stroke-width="1.25"/>
<line x1="60.3" y1="80.2" x2="60.3" y2="84.0" stroke="#000" stroke-width="1.25"/>
<line x1="57.3" y1="84.0" x2="63.3" y2="84.0" stroke="#000" stroke-width="1.25"/>
<line x1="60.6" y1="110" x2="60.6" y2="113.8" stroke="#000" stroke-width="1.25"/>
<line x1="57.6" y1="110" x2="63.6" y2="110" stroke="#000" stroke-width="1.25"/>
<line x1="60.6" y1="113.8" x2="60.6" y2="117.7" stroke="#000" stroke-width="1.25"/>
<line x1="57.6" y1="117.7" x2="63.6" y2="117.7" stroke="#000" stroke-width="1.25"/>
<line x1="64.2" y1="137.7" x2="64.2" y2="144.1" stroke="#000" stroke-width="1.25"/>
<line x1="61.2" y1="137.7" x2="67.2" y2="137.7" stroke="#000" stroke-width="1.25"/>
<line x1="64.2" y1="144.1" x2="64.2" y2="150" stroke="#000" stroke-width="1.25"/>
<line x1="61.2" y1="150" x2="67.2" y2="150" stroke="#000" stroke-width="1.25"/>
<line x1="71.5" y1="139.2" x2="71.5" y2="147.8" stroke="#000" stroke-width="1.25"/>
<line x1="68.5" y1="139.2" x2="74.5" y2="139.2" stroke="#000" stroke-width="1.25"/>
<line x1="71.5" y1="147.8" x2="71.5" y2="154" stroke="#000" stroke-width="1.25"/>
<line x1="68.5" y1="154" x2="74.5" y2="154" stroke="#000" stroke-width="1.25"/>
<line x1="79.1" y1="133.8" x2="79.1" y2="141.5" stroke="#000" stroke-width="1.25"/>
<line x1="76.1" y1="133.8" x2="82.1" y2="133.8" stroke="#000" stroke-width="1.25"/>
<line x1="79.1" y1="141.5" x2="79.1" y2="149" stroke="#000" stroke-width="1.25"/>
<line x1="76.1" y1="149" x2="82.1" y2="149" stroke="#000" stroke-width="1.25"/>
<line x1="86.4" y1="114" x2="86.4" y2="124" stroke="#000" stroke-width="1.25"/>
<line x1="83.4" y1="114" x2="89.4" y2="114" stroke="#000" stroke-width="1.25"/>
<line x1="86.4" y1="124" x2="86.4" y2="133.8" stroke="#000" stroke-width="1.25"/>
<line x1="83.4" y1="133.8" x2="89.4" y2="133.8" stroke="#000" stroke-width="1.25"/>
<line x1="93.9" y1="108.8" x2="93.9" y2="118.9" stroke="#000" stroke-width="1.25"/>
<line x1="90.9" y1="108.8" x2="96.9" y2="108.8" stroke="#000" stroke-width="1.25"/>
<line x1="93.9" y1="118.9" x2="93.9" y2="128.8" stroke="#000" stroke-width="1.25"/>
<line x1="90.9" y1="128.8" x2="96.9" y2="128.8" stroke="#000" stroke-width="1.25"/>
<line x1="101.3" y1="115.4" x2="101.3" y2="122.8" stroke="#000" stroke-width="1.25"/>
<line x1="98.3" y1="115.4" x2="104.3" y2="115.4" stroke="#000" stroke-width="1.25"/>
<line x1="101.3" y1="122.8" x2="101.3" y2="130.3" stroke="#000" stroke-width="1.25"/>
<line x1="98.3" y1="130.3" x2="104.3" y2="130.3" stroke="#000" stroke-width="1.25"/>
<line x1="108.6" y1="107.5" x2="108.6" y2="116.5" stroke="#000" stroke-width="1.25"/>
<line x1="105.6" y1="107.5" x2="111.6" y2="107.5" stroke="#000" stroke-width="1.25"/>
<line x1="108.6" y1="116.5" x2="108.6" y2="125.2" stroke="#000" stroke-width="1.25"/>
<line x1="105.6" y1="125.2" x2="111.6" y2="125.2" stroke="#000" stroke-width="1.25"/>
<line x1="116.0" y1="111.3" x2="116.0" y2="122.8" stroke="#000" stroke-width="1.25"/>
<line x1="113.0" y1="111.3" x2="119.0" y2="111.3" stroke="#000" stroke-width="1.25"/>
<line x1="116.0" y1="122.8" x2="116.0" y2="134.1" stroke="#000" stroke-width="1.25"/>
<line x1="113.0" y1="134.1" x2="119.0" y2="134.1" stroke="#000" stroke-width="1.25"/>
<line x1="123.5" y1="119" x2="123.5" y2="129" stroke="#000" stroke-width="1.25"/>
<line x1="120.5" y1="119" x2="126.5" y2="119" stroke="#000" stroke-width="1.25"/>
<line x1="123.5" y1="129" x2="123.5" y2="139" stroke="#000" stroke-width="1.25"/>
<line x1="120.5" y1="139" x2="126.5" y2="139" stroke="#000" stroke-width="1.25"/>
<line x1="131.0" y1="119" x2="131.0" y2="126.3" stroke="#000" stroke-width="1.25"/>
<line x1="128.0" y1="119" x2="134.0" y2="119" stroke="#000" stroke-width="1.25"/>
<line x1="131.0" y1="126.3" x2="131.0" y2="133.8" stroke="#000" stroke-width="1.25"/>
<line x1="128.0" y1="133.8" x2="134.0" y2="133.8" stroke="#000" stroke-width="1.25"/>
<line x1="233.9" y1="133.2" x2="233.9" y2="137.9" stroke="#000" stroke-width="1.25"/>
<line x1="230.9" y1="133.2" x2="236.9" y2="133.2" stroke="#000" stroke-width="1.25"/>
<line x1="233.9" y1="137.9" x2="233.9" y2="142.6" stroke="#000" stroke-width="1.25"/>
<line x1="230.9" y1="142.6" x2="236.9" y2="142.6" stroke="#000" stroke-width="1.25"/>
<circle cx="56.3" cy="62.6" r="2.6" fill="#fff" stroke="#000" stroke-width="1.25"/>
<circle cx="55.4" cy="74.3" r="2.6" fill="#fff" stroke="#000" stroke-width="1.25"/>
<circle cx="55.9" cy="89.8" r="2.6" fill="#fff" stroke="#000" stroke-width="1.25"/>
<circle cx="60.3" cy="80.2" r="2.6" fill="#fff" stroke="#000" stroke-width="1.25"/>
<circle cx="60.6" cy="113.8" r="2.6" fill="#fff" stroke="#000" stroke-width="1.25"/>
<circle cx="64.2" cy="144.1" r="2.6" fill="#fff" stroke="#000" stroke-width="1.25"/>
<circle cx="71.5" cy="147.8" r="2.6" fill="#fff" stroke="#000" stroke-width="1.25"/>
<circle cx="79.1" cy="141.5" r="2.6" fill="#fff" stroke="#000" stroke-width="1.25"/>
<circle cx="86.4" cy="124" r="2.6" fill="#fff" stroke="#000" stroke-width="1.25"/>
<circle cx="93.9" cy="118.9" r="2.6" fill="#fff" stroke="#000" stroke-width="1.25"/>
<circle cx="101.3" cy="122.8" r="2.6" fill="#fff" stroke="#000" stroke-width="1.25"/>
<circle cx="108.6" cy="116.5" r="2.6" fill="#fff" stroke="#000" stroke-width="1.25"/>
<circle cx="116.0" cy="122.8" r="2.6" fill="#fff" stroke="#000" stroke-width="1.25"/>
<circle cx="123.5" cy="129" r="2.6" fill="#fff" stroke="#000" stroke-width="1.25"/>
<circle cx="131.0" cy="126.3" r="2.6" fill="#fff" stroke="#000" stroke-width="1.25"/>
<circle cx="233.9" cy="137.9" r="2.6" fill="#fff" stroke="#000" stroke-width="1.25"/>
<polyline points="56.1,68.75 64.3,76.3 71.6,87.7 78.8,94.0 86.3,91.2 93.6,95.2 101.2,90.3 108.6,87.3 116.1,90.0 123.3,95.1 233.9,128.8" fill="none" stroke="#000" stroke-width="1.25" stroke-linejoin="round"/>
<line x1="64.3" y1="70.2" x2="64.3" y2="76.3" stroke="#000" stroke-width="1.25"/>
<line x1="61.3" y1="70.2" x2="67.3" y2="70.2" stroke="#000" stroke-width="1.25"/>
<line x1="64.3" y1="76.3" x2="64.3" y2="81" stroke="#000" stroke-width="1.25"/>
<line x1="61.3" y1="81" x2="67.3" y2="81" stroke="#000" stroke-width="1.25"/>
<line x1="71.6" y1="81" x2="71.6" y2="87.7" stroke="#000" stroke-width="1.25"/>
<line x1="68.6" y1="81" x2="74.6" y2="81" stroke="#000" stroke-width="1.25"/>
<line x1="71.6" y1="87.7" x2="71.6" y2="93.8" stroke="#000" stroke-width="1.25"/>
<line x1="68.6" y1="93.8" x2="74.6" y2="93.8" stroke="#000" stroke-width="1.25"/>
<line x1="78.8" y1="86.5" x2="78.8" y2="94.0" stroke="#000" stroke-width="1.25"/>
<line x1="75.8" y1="86.5" x2="81.8" y2="86.5" stroke="#000" stroke-width="1.25"/>
<line x1="78.8" y1="94.0" x2="78.8" y2="101.2" stroke="#000" stroke-width="1.25"/>
<line x1="75.8" y1="101.2" x2="81.8" y2="101.2" stroke="#000" stroke-width="1.25"/>
<line x1="86.3" y1="85.8" x2="86.3" y2="91.2" stroke="#000" stroke-width="1.25"/>
<line x1="83.3" y1="85.8" x2="89.3" y2="85.8" stroke="#000" stroke-width="1.25"/>
<line x1="86.3" y1="91.2" x2="86.3" y2="96.5" stroke="#000" stroke-width="1.25"/>
<line x1="83.3" y1="96.5" x2="89.3" y2="96.5" stroke="#000" stroke-width="1.25"/>
<line x1="93.6" y1="85" x2="93.6" y2="95.2" stroke="#000" stroke-width="1.25"/>
<line x1="90.6" y1="85" x2="96.6" y2="85" stroke="#000" stroke-width="1.25"/>
<line x1="93.6" y1="95.2" x2="93.6" y2="104.6" stroke="#000" stroke-width="1.25"/>
<line x1="90.6" y1="104.6" x2="96.6" y2="104.6" stroke="#000" stroke-width="1.25"/>
<line x1="101.2" y1="83.3" x2="101.2" y2="90.3" stroke="#000" stroke-width="1.25"/>
<line x1="98.2" y1="83.3" x2="104.2" y2="83.3" stroke="#000" stroke-width="1.25"/>
<line x1="101.2" y1="90.3" x2="101.2" y2="97.3" stroke="#000" stroke-width="1.25"/>
<line x1="98.2" y1="97.3" x2="104.2" y2="97.3" stroke="#000" stroke-width="1.25"/>
<line x1="108.6" y1="80" x2="108.6" y2="87.3" stroke="#000" stroke-width="1.25"/>
<line x1="105.6" y1="80" x2="111.6" y2="80" stroke="#000" stroke-width="1.25"/>
<line x1="108.6" y1="87.3" x2="108.6" y2="95.2" stroke="#000" stroke-width="1.25"/>
<line x1="105.6" y1="95.2" x2="111.6" y2="95.2" stroke="#000" stroke-width="1.25"/>
<line x1="116.1" y1="81.9" x2="116.1" y2="90.0" stroke="#000" stroke-width="1.25"/>
<line x1="113.1" y1="81.9" x2="119.1" y2="81.9" stroke="#000" stroke-width="1.25"/>
<line x1="116.1" y1="90.0" x2="116.1" y2="98" stroke="#000" stroke-width="1.25"/>
<line x1="113.1" y1="98" x2="119.1" y2="98" stroke="#000" stroke-width="1.25"/>
<line x1="123.3" y1="88.5" x2="123.3" y2="95.1" stroke="#000" stroke-width="1.25"/>
<line x1="120.3" y1="88.5" x2="126.3" y2="88.5" stroke="#000" stroke-width="1.25"/>
<line x1="123.3" y1="95.1" x2="123.3" y2="101.9" stroke="#000" stroke-width="1.25"/>
<line x1="120.3" y1="101.9" x2="126.3" y2="101.9" stroke="#000" stroke-width="1.25"/>
<line x1="233.9" y1="123.7" x2="233.9" y2="128.8" stroke="#000" stroke-width="1.25"/>
<line x1="230.9" y1="123.7" x2="236.9" y2="123.7" stroke="#000" stroke-width="1.25"/>
<line x1="233.9" y1="128.8" x2="233.9" y2="133.5" stroke="#000" stroke-width="1.25"/>
<line x1="230.9" y1="133.5" x2="236.9" y2="133.5" stroke="#000" stroke-width="1.25"/>
<rect x="53.5" y="66.15" width="5.2" height="5.2" fill="#fff" stroke="#000" stroke-width="1.25"/>
<rect x="54.4" y="82.4" width="5.2" height="5.2" fill="#fff" stroke="#000" stroke-width="1.25"/>
<rect x="61.699999999999996" y="73.7" width="5.2" height="5.2" fill="#fff" stroke="#000" stroke-width="1.25"/>
<rect x="69.0" y="85.10000000000001" width="5.2" height="5.2" fill="#fff" stroke="#000" stroke-width="1.25"/>
<rect x="76.2" y="91.4" width="5.2" height="5.2" fill="#fff" stroke="#000" stroke-width="1.25"/>
<rect x="83.7" y="88.60000000000001" width="5.2" height="5.2" fill="#fff" stroke="#000" stroke-width="1.25"/>
<rect x="91.0" y="92.60000000000001" width="5.2" height="5.2" fill="#fff" stroke="#000" stroke-width="1.25"/>
<rect x="98.60000000000001" y="87.7" width="5.2" height="5.2" fill="#fff" stroke="#000" stroke-width="1.25"/>
<rect x="106.0" y="84.7" width="5.2" height="5.2" fill="#fff" stroke="#000" stroke-width="1.25"/>
<rect x="113.5" y="87.4" width="5.2" height="5.2" fill="#fff" stroke="#000" stroke-width="1.25"/>
<rect x="120.7" y="92.5" width="5.2" height="5.2" fill="#fff" stroke="#000" stroke-width="1.25"/>
<rect x="231.3" y="126.20000000000002" width="5.2" height="5.2" fill="#fff" stroke="#000" stroke-width="1.25"/>
<line x1="57.0" y1="85.0" x2="63.0" y2="84.0" stroke="#000" stroke-width="1.25"/>
<circle cx="86.3" cy="91.2" r="2.6" fill="#fff" stroke="#000" stroke-width="1.25"/>
<line x1="56.3" y1="58.9" x2="56.3" y2="66.2" stroke="#000" stroke-width="1.25"/>
<line x1="54.05" y1="64.6" x2="58.55" y2="64.6" stroke="#000" stroke-width="1.0"/>
<line x1="55.6" y1="71.2" x2="55.6" y2="78.0" stroke="#000" stroke-width="1.25"/>
<line x1="53.6" y1="76.2" x2="57.6" y2="76.2" stroke="#000" stroke-width="1.0"/>
<line x1="55.9" y1="86.8" x2="55.9" y2="92.8" stroke="#000" stroke-width="1.0"/>
<text x="73.10" y="82.23" font-size="16" font-weight="bold" text-anchor="middle">*</text>
<text x="80.75" y="82.23" font-size="16" font-weight="bold" text-anchor="middle">*</text>
<polyline points="318.3,67 318.6,76.6 321.8,114 325.8,144.8 333.1,148.2 340.5,141.9 348,129 355.3,121 362.6,122.7 369.9,118 377.3,122.9 384.6,129.2 392.5,126.9 495,138.3" fill="none" stroke="#000" stroke-width="1.25" stroke-linejoin="round"/>
<line x1="318.3" y1="59.3" x2="318.3" y2="67" stroke="#000" stroke-width="1.25"/>
<line x1="315.3" y1="59.3" x2="321.3" y2="59.3" stroke="#000" stroke-width="1.25"/>
<line x1="318.6" y1="76.6" x2="318.6" y2="81" stroke="#000" stroke-width="1.25"/>
<line x1="315.6" y1="81" x2="321.6" y2="81" stroke="#000" stroke-width="1.25"/>
<line x1="321.8" y1="110.2" x2="321.8" y2="114" stroke="#000" stroke-width="1.25"/>
<line x1="318.8" y1="110.2" x2="324.8" y2="110.2" stroke="#000" stroke-width="1.25"/>
<line x1="321.8" y1="114" x2="321.8" y2="117.9" stroke="#000" stroke-width="1.25"/>
<line x1="318.8" y1="117.9" x2="324.8" y2="117.9" stroke="#000" stroke-width="1.25"/>
<line x1="325.8" y1="136.2" x2="325.8" y2="144.8" stroke="#000" stroke-width="1.25"/>
<line x1="322.8" y1="136.2" x2="328.8" y2="136.2" stroke="#000" stroke-width="1.25"/>
<line x1="325.8" y1="144.8" x2="325.8" y2="150.6" stroke="#000" stroke-width="1.25"/>
<line x1="322.8" y1="150.6" x2="328.8" y2="150.6" stroke="#000" stroke-width="1.25"/>
<line x1="340.5" y1="136.2" x2="340.5" y2="141.9" stroke="#000" stroke-width="1.25"/>
<line x1="337.5" y1="136.2" x2="343.5" y2="136.2" stroke="#000" stroke-width="1.25"/>
<line x1="340.5" y1="141.9" x2="340.5" y2="149.1" stroke="#000" stroke-width="1.25"/>
<line x1="337.5" y1="149.1" x2="343.5" y2="149.1" stroke="#000" stroke-width="1.25"/>
<line x1="348" y1="123" x2="348" y2="129" stroke="#000" stroke-width="1.25"/>
<line x1="345.0" y1="123" x2="351.0" y2="123" stroke="#000" stroke-width="1.25"/>
<line x1="355.3" y1="114.2" x2="355.3" y2="121" stroke="#000" stroke-width="1.25"/>
<line x1="352.3" y1="114.2" x2="358.3" y2="114.2" stroke="#000" stroke-width="1.25"/>
<line x1="355.3" y1="121" x2="355.3" y2="124.2" stroke="#000" stroke-width="1.25"/>
<line x1="352.3" y1="124.2" x2="358.3" y2="124.2" stroke="#000" stroke-width="1.25"/>
<line x1="362.6" y1="112.7" x2="362.6" y2="122.7" stroke="#000" stroke-width="1.25"/>
<line x1="359.6" y1="112.7" x2="365.6" y2="112.7" stroke="#000" stroke-width="1.25"/>
<line x1="362.6" y1="122.7" x2="362.6" y2="130.8" stroke="#000" stroke-width="1.25"/>
<line x1="359.6" y1="130.8" x2="365.6" y2="130.8" stroke="#000" stroke-width="1.25"/>
<line x1="377.3" y1="112.5" x2="377.3" y2="122.9" stroke="#000" stroke-width="1.25"/>
<line x1="374.3" y1="112.5" x2="380.3" y2="112.5" stroke="#000" stroke-width="1.25"/>
<line x1="377.3" y1="122.9" x2="377.3" y2="134.4" stroke="#000" stroke-width="1.25"/>
<line x1="374.3" y1="134.4" x2="380.3" y2="134.4" stroke="#000" stroke-width="1.25"/>
<line x1="384.6" y1="121.2" x2="384.6" y2="129.2" stroke="#000" stroke-width="1.25"/>
<line x1="381.6" y1="121.2" x2="387.6" y2="121.2" stroke="#000" stroke-width="1.25"/>
<line x1="384.6" y1="129.2" x2="384.6" y2="139.4" stroke="#000" stroke-width="1.25"/>
<line x1="381.6" y1="139.4" x2="387.6" y2="139.4" stroke="#000" stroke-width="1.25"/>
<line x1="392.5" y1="119.8" x2="392.5" y2="126.9" stroke="#000" stroke-width="1.25"/>
<line x1="389.5" y1="119.8" x2="395.5" y2="119.8" stroke="#000" stroke-width="1.25"/>
<line x1="392.5" y1="126.9" x2="392.5" y2="133.8" stroke="#000" stroke-width="1.25"/>
<line x1="389.5" y1="133.8" x2="395.5" y2="133.8" stroke="#000" stroke-width="1.25"/>
<line x1="495" y1="133.5" x2="495" y2="138.3" stroke="#000" stroke-width="1.25"/>
<line x1="492.0" y1="133.5" x2="498.0" y2="133.5" stroke="#000" stroke-width="1.25"/>
<line x1="495" y1="138.3" x2="495" y2="143" stroke="#000" stroke-width="1.25"/>
<line x1="492.0" y1="143" x2="498.0" y2="143" stroke="#000" stroke-width="1.25"/>
<circle cx="318.3" cy="67" r="2.6" fill="#fff" stroke="#000" stroke-width="1.25"/>
<circle cx="318.6" cy="76.6" r="2.6" fill="#fff" stroke="#000" stroke-width="1.25"/>
<circle cx="321.8" cy="114" r="2.6" fill="#fff" stroke="#000" stroke-width="1.25"/>
<circle cx="325.8" cy="144.8" r="2.6" fill="#fff" stroke="#000" stroke-width="1.25"/>
<circle cx="333.1" cy="148.2" r="2.6" fill="#fff" stroke="#000" stroke-width="1.25"/>
<circle cx="340.5" cy="141.9" r="2.6" fill="#fff" stroke="#000" stroke-width="1.25"/>
<circle cx="348" cy="129" r="2.6" fill="#fff" stroke="#000" stroke-width="1.25"/>
<circle cx="355.3" cy="121" r="2.6" fill="#fff" stroke="#000" stroke-width="1.25"/>
<circle cx="362.6" cy="122.7" r="2.6" fill="#fff" stroke="#000" stroke-width="1.25"/>
<circle cx="369.9" cy="118" r="2.6" fill="#fff" stroke="#000" stroke-width="1.25"/>
<circle cx="377.3" cy="122.9" r="2.6" fill="#fff" stroke="#000" stroke-width="1.25"/>
<circle cx="384.6" cy="129.2" r="2.6" fill="#fff" stroke="#000" stroke-width="1.25"/>
<circle cx="392.5" cy="126.9" r="2.6" fill="#fff" stroke="#000" stroke-width="1.25"/>
<circle cx="495" cy="138.3" r="2.6" fill="#fff" stroke="#000" stroke-width="1.25"/>
<polyline points="318.2,72.8 318.2,99.2 322.3,103 325.9,129.2 333.1,136 340.5,131.6 348,126.2 355.3,119.3 362.7,118 369.8,114.4 377.3,117.1 384.6,115.4 392.5,106.7 399.5,109 406.6,101.7 414,103.5 495.3,110.6" fill="none" stroke="#000" stroke-width="1.25" stroke-linejoin="round"/>
<line x1="318.2" y1="81" x2="318.2" y2="99.2" stroke="#000" stroke-width="1.25"/>
<line x1="315.2" y1="81" x2="321.2" y2="81" stroke="#000" stroke-width="1.25"/>
<line x1="325.9" y1="124.6" x2="325.9" y2="129.2" stroke="#000" stroke-width="1.25"/>
<line x1="322.9" y1="124.6" x2="328.9" y2="124.6" stroke="#000" stroke-width="1.25"/>
<line x1="325.9" y1="129.2" x2="325.9" y2="134.2" stroke="#000" stroke-width="1.25"/>
<line x1="322.9" y1="134.2" x2="328.9" y2="134.2" stroke="#000" stroke-width="1.25"/>
<line x1="333.1" y1="133.7" x2="333.1" y2="136" stroke="#000" stroke-width="1.25"/>
<line x1="330.1" y1="133.7" x2="336.1" y2="133.7" stroke="#000" stroke-width="1.25"/>
<line x1="340.5" y1="127" x2="340.5" y2="131.6" stroke="#000" stroke-width="1.25"/>
<line x1="337.5" y1="127" x2="343.5" y2="127" stroke="#000" stroke-width="1.25"/>
<line x1="348" y1="114.6" x2="348" y2="126.2" stroke="#000" stroke-width="1.25"/>
<line x1="345.0" y1="114.6" x2="351.0" y2="114.6" stroke="#000" stroke-width="1.25"/>
<line x1="348" y1="126.2" x2="348" y2="133.8" stroke="#000" stroke-width="1.25"/>
<line x1="345.0" y1="133.8" x2="351.0" y2="133.8" stroke="#000" stroke-width="1.25"/>
<line x1="355.3" y1="109.6" x2="355.3" y2="119.3" stroke="#000" stroke-width="1.25"/>
<line x1="352.3" y1="109.6" x2="358.3" y2="109.6" stroke="#000" stroke-width="1.25"/>
<line x1="355.3" y1="119.3" x2="355.3" y2="129.2" stroke="#000" stroke-width="1.25"/>
<line x1="352.3" y1="129.2" x2="358.3" y2="129.2" stroke="#000" stroke-width="1.25"/>
<line x1="362.7" y1="112.5" x2="362.7" y2="118" stroke="#000" stroke-width="1.25"/>
<line x1="359.7" y1="112.5" x2="365.7" y2="112.5" stroke="#000" stroke-width="1.25"/>
<line x1="362.7" y1="118" x2="362.7" y2="130.4" stroke="#000" stroke-width="1.25"/>
<line x1="359.7" y1="130.4" x2="365.7" y2="130.4" stroke="#000" stroke-width="1.25"/>
<line x1="369.8" y1="108.2" x2="369.8" y2="114.4" stroke="#000" stroke-width="1.25"/>
<line x1="366.8" y1="108.2" x2="372.8" y2="108.2" stroke="#000" stroke-width="1.25"/>
<line x1="369.8" y1="114.4" x2="369.8" y2="125.2" stroke="#000" stroke-width="1.25"/>
<line x1="366.8" y1="125.2" x2="372.8" y2="125.2" stroke="#000" stroke-width="1.25"/>
<line x1="377.3" y1="111" x2="377.3" y2="117.1" stroke="#000" stroke-width="1.25"/>
<line x1="374.3" y1="111" x2="380.3" y2="111" stroke="#000" stroke-width="1.25"/>
<line x1="384.6" y1="110" x2="384.6" y2="115.4" stroke="#000" stroke-width="1.25"/>
<line x1="381.6" y1="110" x2="387.6" y2="110" stroke="#000" stroke-width="1.25"/>
<line x1="392.5" y1="104" x2="392.5" y2="106.7" stroke="#000" stroke-width="1.25"/>
<line x1="389.5" y1="104" x2="395.5" y2="104" stroke="#000" stroke-width="1.25"/>
<line x1="399.5" y1="106" x2="399.5" y2="109" stroke="#000" stroke-width="1.25"/>
<line x1="396.5" y1="106" x2="402.5" y2="106" stroke="#000" stroke-width="1.25"/>
<line x1="406.6" y1="96.9" x2="406.6" y2="101.7" stroke="#000" stroke-width="1.25"/>
<line x1="403.6" y1="96.9" x2="409.6" y2="96.9" stroke="#000" stroke-width="1.25"/>
<line x1="406.6" y1="101.7" x2="406.6" y2="106.5" stroke="#000" stroke-width="1.25"/>
<line x1="403.6" y1="106.5" x2="409.6" y2="106.5" stroke="#000" stroke-width="1.25"/>
<line x1="414" y1="98.5" x2="414" y2="103.5" stroke="#000" stroke-width="1.25"/>
<line x1="411.0" y1="98.5" x2="417.0" y2="98.5" stroke="#000" stroke-width="1.25"/>
<line x1="414" y1="103.5" x2="414" y2="108.5" stroke="#000" stroke-width="1.25"/>
<line x1="411.0" y1="108.5" x2="417.0" y2="108.5" stroke="#000" stroke-width="1.25"/>
<line x1="495.3" y1="104.4" x2="495.3" y2="110.6" stroke="#000" stroke-width="1.25"/>
<line x1="492.3" y1="104.4" x2="498.3" y2="104.4" stroke="#000" stroke-width="1.25"/>
<line x1="495.3" y1="110.6" x2="495.3" y2="116.8" stroke="#000" stroke-width="1.25"/>
<line x1="492.3" y1="116.8" x2="498.3" y2="116.8" stroke="#000" stroke-width="1.25"/>
<rect x="315.59999999999997" y="70.2" width="5.2" height="5.2" fill="#fff" stroke="#000" stroke-width="1.25"/>
<rect x="315.59999999999997" y="96.60000000000001" width="5.2" height="5.2" fill="#fff" stroke="#000" stroke-width="1.25"/>
<rect x="319.7" y="100.4" width="5.2" height="5.2" fill="#fff" stroke="#000" stroke-width="1.25"/>
<rect x="323.29999999999995" y="126.6" width="5.2" height="5.2" fill="#fff" stroke="#000" stroke-width="1.25"/>
<rect x="330.5" y="133.4" width="5.2" height="5.2" fill="#fff" stroke="#000" stroke-width="1.25"/>
<rect x="337.9" y="129.0" width="5.2" height="5.2" fill="#fff" stroke="#000" stroke-width="1.25"/>
<rect x="345.4" y="123.60000000000001" width="5.2" height="5.2" fill="#fff" stroke="#000" stroke-width="1.25"/>
<rect x="352.7" y="116.7" width="5.2" height="5.2" fill="#fff" stroke="#000" stroke-width="1.25"/>
<rect x="360.09999999999997" y="115.4" width="5.2" height="5.2" fill="#fff" stroke="#000" stroke-width="1.25"/>
<rect x="367.2" y="111.80000000000001" width="5.2" height="5.2" fill="#fff" stroke="#000" stroke-width="1.25"/>
<rect x="374.7" y="114.5" width="5.2" height="5.2" fill="#fff" stroke="#000" stroke-width="1.25"/>
<rect x="382.0" y="112.80000000000001" width="5.2" height="5.2" fill="#fff" stroke="#000" stroke-width="1.25"/>
<rect x="389.9" y="104.10000000000001" width="5.2" height="5.2" fill="#fff" stroke="#000" stroke-width="1.25"/>
<rect x="396.9" y="106.4" width="5.2" height="5.2" fill="#fff" stroke="#000" stroke-width="1.25"/>
<rect x="404.0" y="99.10000000000001" width="5.2" height="5.2" fill="#fff" stroke="#000" stroke-width="1.25"/>
<rect x="411.4" y="100.9" width="5.2" height="5.2" fill="#fff" stroke="#000" stroke-width="1.25"/>
<rect x="492.7" y="108.0" width="5.2" height="5.2" fill="#fff" stroke="#000" stroke-width="1.25"/>
<text x="494.70" y="104.93" font-size="16" font-weight="bold" text-anchor="middle">*</text>
<polyline points="53.3,288 113.3,261.8 233.9,245.3" fill="none" stroke="#000" stroke-width="1.35" stroke-linejoin="round"/>
<line x1="53.3" y1="281.7" x2="53.3" y2="288" stroke="#000" stroke-width="1.35"/>
<line x1="49.099999999999994" y1="281.7" x2="57.5" y2="281.7" stroke="#000" stroke-width="1.35"/>
<line x1="113.3" y1="246.8" x2="113.3" y2="261.8" stroke="#000" stroke-width="1.35"/>
<line x1="109.1" y1="246.8" x2="117.5" y2="246.8" stroke="#000" stroke-width="1.35"/>
<line x1="113.3" y1="261.8" x2="113.3" y2="277" stroke="#000" stroke-width="1.35"/>
<line x1="109.1" y1="277" x2="117.5" y2="277" stroke="#000" stroke-width="1.35"/>
<line x1="233.9" y1="223" x2="233.9" y2="245.3" stroke="#000" stroke-width="1.35"/>
<line x1="229.70000000000002" y1="223" x2="238.1" y2="223" stroke="#000" stroke-width="1.35"/>
<line x1="233.9" y1="245.3" x2="233.9" y2="267.6" stroke="#000" stroke-width="1.35"/>
<line x1="229.70000000000002" y1="267.6" x2="238.1" y2="267.6" stroke="#000" stroke-width="1.35"/>
<circle cx="53.3" cy="288" r="3.6" fill="#fff" stroke="#000" stroke-width="1.35"/>
<circle cx="113.3" cy="261.8" r="3.6" fill="#fff" stroke="#000" stroke-width="1.35"/>
<circle cx="233.9" cy="245.3" r="3.6" fill="#fff" stroke="#000" stroke-width="1.35"/>
<polyline points="53.3,296.6 113.3,284.3 233.9,285" fill="none" stroke="#000" stroke-width="1.35" stroke-linejoin="round"/>
<rect x="49.8" y="293.1" width="7.0" height="7.0" fill="#fff" stroke="#000" stroke-width="1.35"/>
<rect x="109.8" y="280.8" width="7.0" height="7.0" fill="#fff" stroke="#000" stroke-width="1.35"/>
<rect x="230.4" y="281.5" width="7.0" height="7.0" fill="#fff" stroke="#000" stroke-width="1.35"/>
<text x="233.05" y="222.68" font-size="16" font-weight="bold" text-anchor="middle">*</text>
<polyline points="318.9,288 379.3,262 499.3,245.5" fill="none" stroke="#000" stroke-width="1.35" stroke-linejoin="round"/>
<line x1="318.9" y1="281.7" x2="318.9" y2="288" stroke="#000" stroke-width="1.35"/>
<line x1="314.7" y1="281.7" x2="323.09999999999997" y2="281.7" stroke="#000" stroke-width="1.35"/>
<line x1="379.3" y1="247" x2="379.3" y2="262" stroke="#000" stroke-width="1.35"/>
<line x1="375.1" y1="247" x2="383.5" y2="247" stroke="#000" stroke-width="1.35"/>
<line x1="379.3" y1="262" x2="379.3" y2="277.5" stroke="#000" stroke-width="1.35"/>
<line x1="375.1" y1="277.5" x2="383.5" y2="277.5" stroke="#000" stroke-width="1.35"/>
<line x1="499.3" y1="223.3" x2="499.3" y2="245.5" stroke="#000" stroke-width="1.35"/>
<line x1="495.1" y1="223.3" x2="503.5" y2="223.3" stroke="#000" stroke-width="1.35"/>
<line x1="499.3" y1="245.5" x2="499.3" y2="267.5" stroke="#000" stroke-width="1.35"/>
<line x1="495.1" y1="267.5" x2="503.5" y2="267.5" stroke="#000" stroke-width="1.35"/>
<circle cx="318.9" cy="288" r="3.6" fill="#fff" stroke="#000" stroke-width="1.35"/>
<circle cx="379.3" cy="262" r="3.6" fill="#fff" stroke="#000" stroke-width="1.35"/>
<circle cx="499.3" cy="245.5" r="3.6" fill="#fff" stroke="#000" stroke-width="1.35"/>
<polyline points="318.9,295 379.3,283.8 499.3,264.5" fill="none" stroke="#000" stroke-width="1.35" stroke-linejoin="round"/>
<rect x="315.4" y="291.5" width="7.0" height="7.0" fill="#fff" stroke="#000" stroke-width="1.35"/>
<rect x="375.8" y="280.3" width="7.0" height="7.0" fill="#fff" stroke="#000" stroke-width="1.35"/>
<rect x="495.8" y="261.0" width="7.0" height="7.0" fill="#fff" stroke="#000" stroke-width="1.35"/>
<polyline points="53,482.5 113.3,429.0 233.8,395.8" fill="none" stroke="#000" stroke-width="1.35" stroke-linejoin="round"/>
<line x1="113.3" y1="386.8" x2="113.3" y2="429.0" stroke="#000" stroke-width="1.35"/>
<line x1="109.1" y1="386.8" x2="117.5" y2="386.8" stroke="#000" stroke-width="1.35"/>
<line x1="113.3" y1="429.0" x2="113.3" y2="469.2" stroke="#000" stroke-width="1.35"/>
<line x1="109.1" y1="469.2" x2="117.5" y2="469.2" stroke="#000" stroke-width="1.35"/>
<line x1="233.8" y1="390.5" x2="233.8" y2="395.8" stroke="#000" stroke-width="1.35"/>
<line x1="229.60000000000002" y1="390.5" x2="238.0" y2="390.5" stroke="#000" stroke-width="1.35"/>
<line x1="233.8" y1="395.8" x2="233.8" y2="399.3" stroke="#000" stroke-width="1.35"/>
<line x1="229.60000000000002" y1="399.3" x2="238.0" y2="399.3" stroke="#000" stroke-width="1.35"/>
<circle cx="53" cy="482.5" r="3.6" fill="#fff" stroke="#000" stroke-width="1.35"/>
<circle cx="113.3" cy="429.0" r="3.6" fill="#fff" stroke="#000" stroke-width="1.35"/>
<circle cx="233.8" cy="395.8" r="3.6" fill="#fff" stroke="#000" stroke-width="1.35"/>
<polyline points="53,482.5 113.3,431.0 233.8,454.3" fill="none" stroke="#000" stroke-width="1.35" stroke-linejoin="round"/>
<line x1="113.3" y1="387.2" x2="113.3" y2="431.0" stroke="#000" stroke-width="1.35"/>
<line x1="109.1" y1="387.2" x2="117.5" y2="387.2" stroke="#000" stroke-width="1.35"/>
<line x1="113.3" y1="431.0" x2="113.3" y2="474.3" stroke="#000" stroke-width="1.35"/>
<line x1="109.1" y1="474.3" x2="117.5" y2="474.3" stroke="#000" stroke-width="1.35"/>
<line x1="233.8" y1="442" x2="233.8" y2="454.3" stroke="#000" stroke-width="1.35"/>
<line x1="229.60000000000002" y1="442" x2="238.0" y2="442" stroke="#000" stroke-width="1.35"/>
<line x1="233.8" y1="454.3" x2="233.8" y2="465.8" stroke="#000" stroke-width="1.35"/>
<line x1="229.60000000000002" y1="465.8" x2="238.0" y2="465.8" stroke="#000" stroke-width="1.35"/>
<rect x="49.5" y="479.0" width="7.0" height="7.0" fill="#fff" stroke="#000" stroke-width="1.35"/>
<rect x="109.8" y="427.5" width="7.0" height="7.0" fill="#fff" stroke="#000" stroke-width="1.35"/>
<rect x="230.3" y="450.8" width="7.0" height="7.0" fill="#fff" stroke="#000" stroke-width="1.35"/>
<text x="226.00" y="390.03" font-size="16" font-weight="bold" text-anchor="middle">*</text>
<text x="233.75" y="390.03" font-size="16" font-weight="bold" text-anchor="middle">*</text>
<text x="241.00" y="390.03" font-size="16" font-weight="bold" text-anchor="middle">*</text>
<polyline points="318.9,486.6 378.8,471.3 498.8,395.5" fill="none" stroke="#000" stroke-width="1.35" stroke-linejoin="round"/>
<line x1="318.9" y1="486.6" x2="318.9" y2="490.2" stroke="#000" stroke-width="1.35"/>
<line x1="314.7" y1="490.2" x2="323.09999999999997" y2="490.2" stroke="#000" stroke-width="1.35"/>
<line x1="378.8" y1="467" x2="378.8" y2="471.3" stroke="#000" stroke-width="1.35"/>
<line x1="374.6" y1="467" x2="383.0" y2="467" stroke="#000" stroke-width="1.35"/>
<line x1="378.8" y1="471.3" x2="378.8" y2="475.5" stroke="#000" stroke-width="1.35"/>
<line x1="374.6" y1="475.5" x2="383.0" y2="475.5" stroke="#000" stroke-width="1.35"/>
<line x1="498.8" y1="377" x2="498.8" y2="395.5" stroke="#000" stroke-width="1.35"/>
<line x1="494.6" y1="377" x2="503.0" y2="377" stroke="#000" stroke-width="1.35"/>
<line x1="498.8" y1="395.5" x2="498.8" y2="413.3" stroke="#000" stroke-width="1.35"/>
<line x1="494.6" y1="413.3" x2="503.0" y2="413.3" stroke="#000" stroke-width="1.35"/>
<circle cx="318.9" cy="486.6" r="3.6" fill="#fff" stroke="#000" stroke-width="1.35"/>
<circle cx="378.8" cy="471.3" r="3.6" fill="#fff" stroke="#000" stroke-width="1.35"/>
<circle cx="498.8" cy="395.5" r="3.6" fill="#fff" stroke="#000" stroke-width="1.35"/>
<polyline points="318.9,484.5 378.8,482.5 498.8,463.8" fill="none" stroke="#000" stroke-width="1.35" stroke-linejoin="round"/>
<line x1="498.8" y1="456.3" x2="498.8" y2="463.8" stroke="#000" stroke-width="1.35"/>
<line x1="494.6" y1="456.3" x2="503.0" y2="456.3" stroke="#000" stroke-width="1.35"/>
<line x1="498.8" y1="463.8" x2="498.8" y2="470" stroke="#000" stroke-width="1.35"/>
<line x1="494.6" y1="470" x2="503.0" y2="470" stroke="#000" stroke-width="1.35"/>
<rect x="315.4" y="481.0" width="7.0" height="7.0" fill="#fff" stroke="#000" stroke-width="1.35"/>
<rect x="375.3" y="479.0" width="7.0" height="7.0" fill="#fff" stroke="#000" stroke-width="1.35"/>
<rect x="495.3" y="460.3" width="7.0" height="7.0" fill="#fff" stroke="#000" stroke-width="1.35"/>
<text x="495.00" y="377.63" font-size="16" font-weight="bold" text-anchor="middle">*</text>
<text x="502.75" y="377.63" font-size="16" font-weight="bold" text-anchor="middle">*</text>
<polyline points="58,652 118.2,608 238.3,595.7" fill="none" stroke="#000" stroke-width="1.35" stroke-linejoin="round"/>
<line x1="118.2" y1="567.2" x2="118.2" y2="608" stroke="#000" stroke-width="1.35"/>
<line x1="114.0" y1="567.2" x2="122.4" y2="567.2" stroke="#000" stroke-width="1.35"/>
<line x1="118.2" y1="608" x2="118.2" y2="648.5" stroke="#000" stroke-width="1.35"/>
<line x1="114.0" y1="648.5" x2="122.4" y2="648.5" stroke="#000" stroke-width="1.35"/>
<line x1="238.3" y1="568" x2="238.3" y2="595.7" stroke="#000" stroke-width="1.35"/>
<line x1="234.10000000000002" y1="568" x2="242.5" y2="568" stroke="#000" stroke-width="1.35"/>
<line x1="238.3" y1="595.7" x2="238.3" y2="623.5" stroke="#000" stroke-width="1.35"/>
<line x1="234.10000000000002" y1="623.5" x2="242.5" y2="623.5" stroke="#000" stroke-width="1.35"/>
<circle cx="58" cy="652" r="3.6" fill="#fff" stroke="#000" stroke-width="1.35"/>
<circle cx="118.2" cy="608" r="3.6" fill="#fff" stroke="#000" stroke-width="1.35"/>
<circle cx="238.3" cy="595.7" r="3.6" fill="#fff" stroke="#000" stroke-width="1.35"/>
<polyline points="58,658 118.2,635 238.3,636" fill="none" stroke="#000" stroke-width="1.35" stroke-linejoin="round"/>
<line x1="118.2" y1="614" x2="118.2" y2="635" stroke="#000" stroke-width="1.35"/>
<line x1="114.0" y1="614" x2="122.4" y2="614" stroke="#000" stroke-width="1.35"/>
<line x1="118.2" y1="635" x2="118.2" y2="656.3" stroke="#000" stroke-width="1.35"/>
<line x1="114.0" y1="656.3" x2="122.4" y2="656.3" stroke="#000" stroke-width="1.35"/>
<line x1="238.3" y1="627.9" x2="238.3" y2="636" stroke="#000" stroke-width="1.35"/>
<line x1="234.10000000000002" y1="627.9" x2="242.5" y2="627.9" stroke="#000" stroke-width="1.35"/>
<line x1="238.3" y1="636" x2="238.3" y2="644.5" stroke="#000" stroke-width="1.35"/>
<line x1="234.10000000000002" y1="644.5" x2="242.5" y2="644.5" stroke="#000" stroke-width="1.35"/>
<rect x="54.5" y="654.5" width="7.0" height="7.0" fill="#fff" stroke="#000" stroke-width="1.35"/>
<rect x="114.7" y="631.5" width="7.0" height="7.0" fill="#fff" stroke="#000" stroke-width="1.35"/>
<rect x="234.8" y="632.5" width="7.0" height="7.0" fill="#fff" stroke="#000" stroke-width="1.35"/>
<polyline points="318.9,652 379.3,648.3 499.5,595.5" fill="none" stroke="#000" stroke-width="1.35" stroke-linejoin="round"/>
<line x1="499.5" y1="568.3" x2="499.5" y2="595.5" stroke="#000" stroke-width="1.35"/>
<line x1="495.3" y1="568.3" x2="503.7" y2="568.3" stroke="#000" stroke-width="1.35"/>
<line x1="499.5" y1="595.5" x2="499.5" y2="623.8" stroke="#000" stroke-width="1.35"/>
<line x1="495.3" y1="623.8" x2="503.7" y2="623.8" stroke="#000" stroke-width="1.35"/>
<circle cx="318.9" cy="652" r="3.6" fill="#fff" stroke="#000" stroke-width="1.35"/>
<circle cx="379.3" cy="648.3" r="3.6" fill="#fff" stroke="#000" stroke-width="1.35"/>
<circle cx="499.5" cy="595.5" r="3.6" fill="#fff" stroke="#000" stroke-width="1.35"/>
<polyline points="318.9,658 379.3,660.8 499.5,635" fill="none" stroke="#000" stroke-width="1.35" stroke-linejoin="round"/>
<line x1="499.5" y1="623.8" x2="499.5" y2="635" stroke="#000" stroke-width="1.35"/>
<line x1="495.3" y1="623.8" x2="503.7" y2="623.8" stroke="#000" stroke-width="1.35"/>
<line x1="499.5" y1="635" x2="499.5" y2="647" stroke="#000" stroke-width="1.35"/>
<line x1="495.3" y1="647" x2="503.7" y2="647" stroke="#000" stroke-width="1.35"/>
<rect x="315.4" y="654.5" width="7.0" height="7.0" fill="#fff" stroke="#000" stroke-width="1.35"/>
<rect x="375.8" y="657.3" width="7.0" height="7.0" fill="#fff" stroke="#000" stroke-width="1.35"/>
<rect x="496.0" y="631.5" width="7.0" height="7.0" fill="#fff" stroke="#000" stroke-width="1.35"/>
<polyline points="57.7,833.5 118,778.8 238.3,776.3" fill="none" stroke="#000" stroke-width="1.35" stroke-linejoin="round"/>
<line x1="118" y1="742" x2="118" y2="778.8" stroke="#000" stroke-width="1.35"/>
<line x1="113.8" y1="742" x2="122.2" y2="742" stroke="#000" stroke-width="1.35"/>
<line x1="118" y1="778.8" x2="118" y2="816.5" stroke="#000" stroke-width="1.35"/>
<line x1="113.8" y1="816.5" x2="122.2" y2="816.5" stroke="#000" stroke-width="1.35"/>
<line x1="238.3" y1="770.5" x2="238.3" y2="776.3" stroke="#000" stroke-width="1.35"/>
<line x1="234.10000000000002" y1="770.5" x2="242.5" y2="770.5" stroke="#000" stroke-width="1.35"/>
<line x1="238.3" y1="776.3" x2="238.3" y2="781.3" stroke="#000" stroke-width="1.35"/>
<line x1="234.10000000000002" y1="781.3" x2="242.5" y2="781.3" stroke="#000" stroke-width="1.35"/>
<circle cx="57.7" cy="833.5" r="3.6" fill="#fff" stroke="#000" stroke-width="1.35"/>
<circle cx="118" cy="778.8" r="3.6" fill="#fff" stroke="#000" stroke-width="1.35"/>
<circle cx="238.3" cy="776.3" r="3.6" fill="#fff" stroke="#000" stroke-width="1.35"/>
<polyline points="57.7,833.5 118,791.8 238.3,800.8" fill="none" stroke="#000" stroke-width="1.35" stroke-linejoin="round"/>
<line x1="118" y1="755.8" x2="118" y2="791.8" stroke="#000" stroke-width="1.35"/>
<line x1="113.8" y1="755.8" x2="122.2" y2="755.8" stroke="#000" stroke-width="1.35"/>
<line x1="118" y1="791.8" x2="118" y2="827.8" stroke="#000" stroke-width="1.35"/>
<line x1="113.8" y1="827.8" x2="122.2" y2="827.8" stroke="#000" stroke-width="1.35"/>
<line x1="238.3" y1="773.7" x2="238.3" y2="800.8" stroke="#000" stroke-width="1.35"/>
<line x1="234.10000000000002" y1="773.7" x2="242.5" y2="773.7" stroke="#000" stroke-width="1.35"/>
<line x1="238.3" y1="800.8" x2="238.3" y2="828" stroke="#000" stroke-width="1.35"/>
<line x1="234.10000000000002" y1="828" x2="242.5" y2="828" stroke="#000" stroke-width="1.35"/>
<rect x="54.2" y="830.0" width="7.0" height="7.0" fill="#fff" stroke="#000" stroke-width="1.35"/>
<rect x="114.5" y="788.3" width="7.0" height="7.0" fill="#fff" stroke="#000" stroke-width="1.35"/>
<rect x="234.8" y="797.3" width="7.0" height="7.0" fill="#fff" stroke="#000" stroke-width="1.35"/>
<polyline points="318.9,833 379.3,778.8 499.5,776.3" fill="none" stroke="#000" stroke-width="1.35" stroke-linejoin="round"/>
<line x1="379.3" y1="741.8" x2="379.3" y2="778.8" stroke="#000" stroke-width="1.35"/>
<line x1="375.1" y1="741.8" x2="383.5" y2="741.8" stroke="#000" stroke-width="1.35"/>
<line x1="379.3" y1="778.8" x2="379.3" y2="816.8" stroke="#000" stroke-width="1.35"/>
<line x1="375.1" y1="816.8" x2="383.5" y2="816.8" stroke="#000" stroke-width="1.35"/>
<line x1="499.5" y1="771.3" x2="499.5" y2="776.3" stroke="#000" stroke-width="1.35"/>
<line x1="495.3" y1="771.3" x2="503.7" y2="771.3" stroke="#000" stroke-width="1.35"/>
<line x1="499.5" y1="776.3" x2="499.5" y2="780.8" stroke="#000" stroke-width="1.35"/>
<line x1="495.3" y1="780.8" x2="503.7" y2="780.8" stroke="#000" stroke-width="1.35"/>
<circle cx="318.9" cy="833" r="3.6" fill="#fff" stroke="#000" stroke-width="1.35"/>
<circle cx="379.3" cy="778.8" r="3.6" fill="#fff" stroke="#000" stroke-width="1.35"/>
<circle cx="499.5" cy="776.3" r="3.6" fill="#fff" stroke="#000" stroke-width="1.35"/>
<polyline points="318.9,833 379.3,803 499.5,798.5" fill="none" stroke="#000" stroke-width="1.35" stroke-linejoin="round"/>
<line x1="379.3" y1="779.3" x2="379.3" y2="803" stroke="#000" stroke-width="1.35"/>
<line x1="375.1" y1="779.3" x2="383.5" y2="779.3" stroke="#000" stroke-width="1.35"/>
<line x1="379.3" y1="803" x2="379.3" y2="826.8" stroke="#000" stroke-width="1.35"/>
<line x1="375.1" y1="826.8" x2="383.5" y2="826.8" stroke="#000" stroke-width="1.35"/>
<line x1="499.5" y1="787.5" x2="499.5" y2="798.5" stroke="#000" stroke-width="1.35"/>
<line x1="495.3" y1="787.5" x2="503.7" y2="787.5" stroke="#000" stroke-width="1.35"/>
<line x1="499.5" y1="798.5" x2="499.5" y2="809.3" stroke="#000" stroke-width="1.35"/>
<line x1="495.3" y1="809.3" x2="503.7" y2="809.3" stroke="#000" stroke-width="1.35"/>
<rect x="315.4" y="829.5" width="7.0" height="7.0" fill="#fff" stroke="#000" stroke-width="1.35"/>
<rect x="375.8" y="799.5" width="7.0" height="7.0" fill="#fff" stroke="#000" stroke-width="1.35"/>
<rect x="496.0" y="795.0" width="7.0" height="7.0" fill="#fff" stroke="#000" stroke-width="1.35"/>
<text transform="translate(147.60,11.20) scale(1.0,1.0)" font-size="12.2" font-weight="bold" text-anchor="middle" >T0</text>
<text transform="translate(409.20,11.70) scale(0.97,1.0)" font-size="12.2" font-weight="bold" text-anchor="middle" >T+5</text>
<text transform="translate(15.70,20.66) scale(1.0,1.0)" font-size="25.6" font-weight="bold" text-anchor="middle" >A</text>
<text transform="translate(10.80,203.31) scale(1.0,1.0)" font-size="25.6" font-weight="bold" text-anchor="middle" >B</text>
<text transform="translate(11.35,357.46) scale(1.0,1.0)" font-size="25.6" font-weight="bold" text-anchor="middle" >C</text>
<text transform="translate(14.05,530.16) scale(1.0,1.0)" font-size="25.6" font-weight="bold" text-anchor="middle" >D</text>
<text transform="translate(11.15,724.16) scale(1.0,1.0)" font-size="25.6" font-weight="bold" text-anchor="middle" >E</text>
<line x1="116.9" y1="36.9" x2="132.8" y2="36.9" stroke="#000" stroke-width="1.2"/>
<circle cx="124.6" cy="36.9" r="2.4" fill="#fff" stroke="#000" stroke-width="1.2"/>
<line x1="116.9" y1="52" x2="132.8" y2="52" stroke="#000" stroke-width="1.2"/>
<rect x="122.19999999999999" y="49.6" width="4.8" height="4.8" fill="#fff" stroke="#000" stroke-width="1.2"/>
<text class="r" x="138.9" y="40.9" font-size="10.1">E. coli</text>
<text class="r" x="138.9" y="55.7" font-size="10.1">E. coli + Compstatin</text>
</svg>
</body></html>
